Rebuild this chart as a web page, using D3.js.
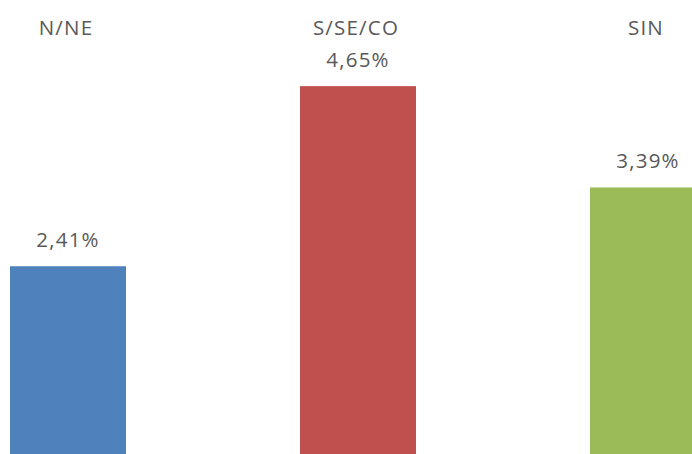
<!DOCTYPE html>
<html>
<head>
<meta charset="utf-8">
<script src="https://cdn.jsdelivr.net/npm/d3@7"></script>
<style>
  html, body { margin: 0; padding: 0; background: #fff; }
  svg { display: block; }
  text { font-family: "Open Sans", "Noto Sans", sans-serif; fill: #595959; }
</style>
</head>
<body>
<svg id="chart" width="692" height="454"></svg>
<script>
const categories = ["N/NE", "S/SE/CO", "SIN"];
const values = [2.41, 4.65, 3.39];
const colors = ["#4F81BD", "#C0504D", "#9BBB59"];

const svg = d3.select("#chart");

const x = d3.scaleBand().domain(categories).range([10, 706]).paddingInner(0.6).paddingOuter(0);
const y = d3.scaleLinear().domain([0, 5]).range([460, 58]);

const locale = d3.formatLocale({ decimal: ",", thousands: ".", grouping: [3], currency: ["", ""] });
const fmt = v => locale.format(".2f")(v) + "%";

const data = categories.map((c, i) => ({ c, v: values[i], color: colors[i] }));

svg.selectAll("rect.bar").data(data).join("rect")
  .attr("class", "bar")
  .attr("x", d => x(d.c))
  .attr("y", d => y(d.v))
  .attr("width", x.bandwidth())
  .attr("height", d => y(0) - y(d.v))
  .attr("fill", d => d.color);

svg.selectAll("text.cat").data(data).join("text")
  .attr("class", "cat")
  .attr("x", d => x(d.c) + x.bandwidth() / 2 - 2)
  .attr("y", 35)
  .attr("text-anchor", "middle")
  .style("font-size", "20.5px")
  .style("letter-spacing", "1.2px")
  .text(d => d.c);

svg.selectAll("text.val").data(data).join("text")
  .attr("class", "val")
  .attr("x", d => x(d.c) + x.bandwidth() / 2)
  .attr("y", d => y(d.v) - 19)
  .attr("text-anchor", "middle")
  .style("font-size", "20.5px")
  .style("letter-spacing", "1.2px")
  .text(d => fmt(d.v));
</script>
</body>
</html>
